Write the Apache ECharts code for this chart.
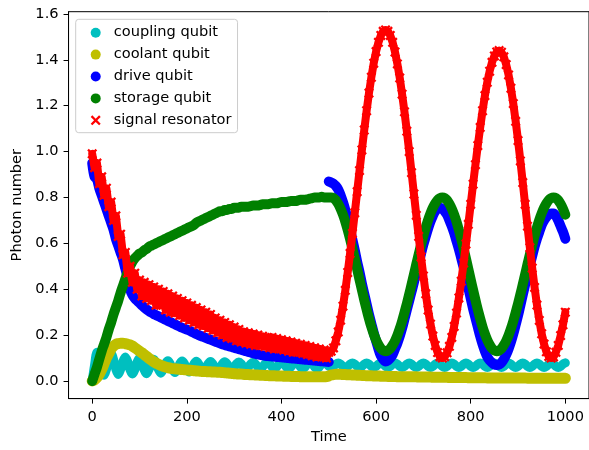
<!DOCTYPE html>
<html><head><meta charset="utf-8">
<script src="https://cdn.jsdelivr.net/npm/echarts@6/dist/echarts.min.js"></script>
<style>html,body{margin:0;padding:0;background:#fff}#c{width:589px;height:450px}</style>
</head><body><div id="c"></div>
<script>
const TIME_STEP = 5;
const xTicks = [0, 200, 400, 600, 800, 1000];
const yTicks = [0, 0.2, 0.4, 0.6, 0.8, 1.0, 1.2, 1.4, 1.6];
const seriesNames = ['coupling qubit', 'coolant qubit', 'drive qubit', 'storage qubit', 'signal resonator'];

// coupling qubit, t = 0..1000
const couplingQubit = [
0.0,0.07,0.125,0.10,0.05,0.025,0.05,0.10,0.12,0.095,
0.05,0.028,0.05,0.085,0.105,0.085,0.048,0.03,0.048,0.083,
0.10,0.083,0.048,0.032,0.05,0.08,0.095,0.08,0.05,0.034,
0.05,0.076,0.088,0.075,0.05,0.037,0.051,0.075,0.087,0.075,
0.051,0.039,0.052,0.075,0.086,0.075,0.053,0.042,0.054,0.075,
0.085,0.075,0.055,0.045,0.056,0.075,0.084,0.075,0.058,0.049,
0.059,0.075,0.083,0.075,0.06,0.052,0.061,0.075,0.082,0.075,
0.061,0.054,0.061,0.075,0.082,0.075,0.061,0.054,0.061,0.075,
0.082,0.075,0.061,0.054,0.061,0.075,0.082,0.075,0.061,0.054,
0.061,0.075,0.082,0.075,0.061,0.054,0.061,0.075,0.082,0.075,
0.064,0.059,0.064,0.074,0.079,0.074,0.064,0.059,0.064,0.074,
0.079,0.074,0.064,0.059,0.064,0.074,0.079,0.074,0.064,0.059,
0.064,0.074,0.079,0.074,0.064,0.059,0.064,0.074,0.079,0.074,
0.064,0.059,0.064,0.074,0.079,0.074,0.064,0.059,0.064,0.074,
0.079,0.074,0.064,0.059,0.064,0.074,0.079,0.074,0.064,0.059,
0.064,0.074,0.079,0.074,0.064,0.059,0.064,0.074,0.079,0.074,
0.064,0.059,0.064,0.074,0.079,0.074,0.064,0.059,0.064,0.074,
0.079,0.074,0.064,0.059,0.064,0.074,0.079,0.074,0.064,0.059,
0.064,0.074,0.079,0.074,0.064,0.059,0.064,0.074,0.079,0.074,
0.064,0.059,0.064,0.074,0.079,0.074,0.064,0.059,0.064,0.074,
0.079];

// coolant qubit, t = 0..1000
const coolantQubit = [
0.00,0.005,0.015,0.03,0.05,0.075,0.10,0.12,0.14,0.152,
0.16,0.163,0.165,0.165,0.163,0.16,0.157,0.152,0.145,0.138,
0.13,0.123,0.115,0.107,0.099,0.091,0.084,0.078,0.073,0.068,
0.064,0.061,0.058,0.056,0.054,0.053,0.052,0.051,0.05,0.049,
0.048,0.047,0.046,0.045,0.044,0.043,0.042,0.041,0.041,0.040,
0.040,0.039,0.039,0.038,0.038,0.037,0.036,0.035,0.034,0.033,
0.032,0.031,0.030,0.030,0.029,0.028,0.028,0.027,0.027,0.026,
0.026,0.025,0.025,0.024,0.024,0.023,0.023,0.023,0.022,0.022,
0.022,0.021,0.021,0.021,0.020,0.020,0.020,0.020,0.019,0.019,
0.019,0.019,0.018,0.018,0.018,0.018,0.018,0.018,0.018,0.019,
0.022,0.026,0.028,0.029,0.029,0.029,0.028,0.028,0.027,0.027,
0.026,0.026,0.025,0.025,0.024,0.024,0.023,0.023,0.023,0.022,
0.022,0.022,0.021,0.021,0.021,0.020,0.020,0.020,0.020,0.019,
0.019,0.019,0.019,0.018,0.018,0.018,0.018,0.018,0.017,0.017,
0.017,0.017,0.017,0.017,0.016,0.016,0.016,0.016,0.016,0.016,
0.016,0.015,0.015,0.015,0.015,0.015,0.015,0.015,0.015,0.014,
0.014,0.014,0.014,0.014,0.014,0.014,0.014,0.013,0.013,0.013,
0.013,0.013,0.013,0.013,0.013,0.013,0.013,0.013,0.013,0.013,
0.013,0.013,0.013,0.013,0.012,0.012,0.012,0.012,0.012,0.012,
0.012,0.012,0.012,0.012,0.012,0.012,0.012,0.012,0.012,0.012,
0.012];

// drive qubit, t = 0..500 (before the jump)
const driveQubitBefore = [
0.95,0.89,0.88,0.84,0.81,0.78,0.75,0.72,0.69,0.66,
0.62,0.59,0.56,0.53,0.49,0.45,0.40,0.375,0.36,0.35,
0.34,0.33,0.32,0.312,0.305,0.298,0.292,0.287,0.282,0.277,
0.272,0.267,0.262,0.257,0.252,0.247,0.242,0.237,0.232,0.228,
0.224,0.22,0.215,0.21,0.205,0.20,0.196,0.192,0.188,0.184,
0.18,0.176,0.172,0.168,0.164,0.16,0.157,0.154,0.151,0.148,
0.145,0.142,0.139,0.136,0.133,0.13,0.127,0.124,0.121,0.118,
0.116,0.114,0.112,0.11,0.109,0.108,0.107,0.106,0.105,0.104,
0.103,0.102,0.101,0.10,0.099,0.098,0.097,0.096,0.095,0.094,
0.093,0.092,0.091,0.09,0.089,0.088,0.087,0.086,0.085,0.084,
0.083];
// drive qubit, t = 500..1000 (after the jump)
const driveQubitAfter = [
0.87,0.865,0.86,0.85,0.835,0.81,0.78,0.745,0.70,0.66,
0.615,0.57,0.52,0.475,0.425,0.38,0.335,0.29,0.25,0.21,
0.175,0.14,0.11,0.095,0.085,0.09,0.10,0.115,0.14,0.165,
0.195,0.23,0.27,0.31,0.35,0.39,0.43,0.475,0.515,0.555,
0.595,0.63,0.665,0.695,0.72,0.74,0.75,0.755,0.75,0.74,
0.725,0.70,0.675,0.645,0.61,0.575,0.535,0.495,0.45,0.405,
0.36,0.315,0.275,0.235,0.195,0.16,0.13,0.105,0.09,0.08,
0.072,0.07,0.072,0.08,0.095,0.115,0.14,0.17,0.205,0.245,
0.285,0.33,0.375,0.42,0.465,0.505,0.545,0.585,0.62,0.65,
0.68,0.70,0.715,0.725,0.73,0.73,0.72,0.70,0.675,0.65,
0.62];

// storage qubit, t = 0..1000
const storageQubit = [
0.00,0.03,0.06,0.095,0.13,0.16,0.19,0.225,0.255,0.29,
0.32,0.35,0.385,0.415,0.445,0.475,0.50,0.52,0.535,0.545,
0.555,0.56,0.57,0.575,0.585,0.59,0.595,0.60,0.605,0.61,
0.615,0.62,0.625,0.63,0.635,0.64,0.645,0.65,0.655,0.66,
0.665,0.67,0.675,0.68,0.69,0.695,0.70,0.705,0.71,0.715,
0.72,0.725,0.73,0.735,0.74,0.74,0.745,0.745,0.75,0.75,
0.755,0.755,0.755,0.76,0.76,0.76,0.76,0.762,0.765,0.765,
0.765,0.767,0.77,0.77,0.77,0.772,0.775,0.775,0.775,0.777,
0.78,0.78,0.78,0.782,0.785,0.785,0.785,0.787,0.79,0.79,
0.79,0.792,0.795,0.797,0.80,0.80,0.80,0.803,0.80,0.80,
0.80,0.80,0.797,0.788,0.772,0.751,0.725,0.694,0.658,0.619,
0.577,0.533,0.488,0.442,0.397,0.353,0.311,0.272,0.236,0.205,
0.179,0.158,0.142,0.133,0.13,0.133,0.141,0.156,0.175,0.199,
0.228,0.261,0.298,0.337,0.378,0.421,0.465,0.509,0.552,0.593,
0.633,0.669,0.702,0.731,0.755,0.774,0.789,0.797,0.80,0.797,
0.788,0.772,0.751,0.725,0.694,0.658,0.619,0.577,0.533,0.488,
0.442,0.397,0.353,0.311,0.272,0.236,0.205,0.179,0.158,0.142,
0.133,0.13,0.133,0.141,0.156,0.175,0.199,0.228,0.261,0.298,
0.337,0.378,0.421,0.465,0.509,0.552,0.593,0.633,0.669,0.702,
0.731,0.755,0.774,0.789,0.797,0.80,0.797,0.788,0.772,0.751,
0.725];

// signal resonator, t = 0..1000
const signalResonator = [
0.99,0.93,0.95,0.86,0.89,0.81,0.84,0.76,0.78,0.70,
0.72,0.63,0.64,0.55,0.56,0.47,0.50,0.43,0.47,0.40,
0.44,0.37,0.43,0.36,0.42,0.35,0.41,0.33,0.40,0.33,
0.39,0.31,0.38,0.30,0.37,0.295,0.36,0.285,0.35,0.275,
0.34,0.265,0.33,0.255,0.32,0.245,0.31,0.24,0.30,0.23,
0.29,0.22,0.275,0.21,0.265,0.20,0.255,0.19,0.245,0.185,
0.235,0.175,0.225,0.17,0.215,0.165,0.21,0.16,0.205,0.155,
0.20,0.155,0.195,0.15,0.19,0.145,0.19,0.14,0.185,0.14,
0.18,0.135,0.175,0.13,0.17,0.125,0.165,0.125,0.16,0.12,
0.155,0.115,0.15,0.11,0.145,0.105,0.14,0.105,0.135,0.10,
0.125,0.13,0.144,0.175,0.214,0.265,0.326,0.395,0.473,0.556,
0.643,0.733,0.825,0.917,1.007,1.094,1.178,1.255,1.324,1.385,
1.436,1.476,1.506,1.524,1.53,1.524,1.506,1.476,1.434,1.382,
1.321,1.25,1.173,1.089,1.0,0.908,0.815,0.722,0.63,0.541,
0.458,0.38,0.309,0.248,0.196,0.155,0.124,0.106,0.10,0.106,
0.123,0.151,0.19,0.238,0.296,0.362,0.435,0.514,0.597,0.683,
0.77,0.858,0.943,1.026,1.105,1.178,1.244,1.302,1.35,1.389,
1.417,1.434,1.44,1.433,1.413,1.379,1.334,1.276,1.209,1.132,
1.048,0.959,0.865,0.77,0.675,0.581,0.492,0.408,0.331,0.264,
0.206,0.161,0.127,0.107,0.10,0.105,0.125,0.155,0.198,0.245,
0.30];

// ---- chart ----
const FONT = 'DejaVu Sans';
const FS = 14.6;
const colors = ['#00bfbf', '#bfbf00', '#0000ff', '#008000', '#ff0000'];
const crossPath = 'path://M0,1.6L1.6,0L5,3.4L8.4,0L10,1.6L6.6,5L10,8.4L8.4,10L5,6.6L1.6,10L0,8.4L3.4,5Z';
const toPairs = (vals, t0) => vals.map((v, i) => [t0 + i * TIME_STEP, v]);

function dotSeries(name, vals, t0, color, width) {
  return {
    type: 'line', name: name, data: toPairs(vals, t0),
    showSymbol: false, smooth: 0.3, animation: false,
    color: color,
    itemStyle: { color: color },
    lineStyle: { color: color, width: width, cap: 'round', join: 'round' },
    emphasis: { disabled: true }
  };
}

const chart = echarts.init(document.getElementById('c'), null, { renderer: 'canvas' });
chart.setOption({
  animation: false,
  backgroundColor: '#ffffff',
  grid: { left: 68.55, right: -2.05, top: 11.7, bottom: 48.3, show: true, borderColor: '#000', borderWidth: 1, backgroundColor: 'transparent' },
  legend: {
    orient: 'vertical', left: 75.7, top: 19.3,
    padding: [5.4, 6, 4.4, 15],
    itemWidth: 26, itemHeight: 10, itemGap: 5.9,
    borderColor: '#cccccc', borderWidth: 1, borderRadius: 3,
    backgroundColor: 'rgba(255,255,255,0.8)',
    textStyle: { fontFamily: FONT, fontSize: FS, color: '#000', lineHeight: 16 },
    data: [
      { name: seriesNames[0], icon: 'circle' },
      { name: seriesNames[1], icon: 'circle' },
      { name: seriesNames[2], icon: 'circle' },
      { name: seriesNames[3], icon: 'circle' },
      { name: seriesNames[4], icon: crossPath }
    ]
  },
  xAxis: {
    type: 'value', min: -50, max: 1050,
    name: 'Time', nameLocation: 'middle', nameGap: 28,
    nameTextStyle: { fontFamily: FONT, fontSize: FS, color: '#000' },
    axisLine: { show: true, onZero: false, lineStyle: { color: '#000', width: 1 } },
    axisTick: { show: true, inside: false, length: 5, customValues: xTicks, lineStyle: { color: '#000', width: 1 } },
    axisLabel: { customValues: xTicks, margin: 11.5, fontFamily: FONT, fontSize: FS, color: '#000', formatter: v => String(v) },
    splitLine: { show: false }
  },
  yAxis: {
    type: 'value', min: -0.0767, max: 1.6096,
    name: 'Photon number', nameLocation: 'middle', nameGap: 40,
    nameTextStyle: { fontFamily: FONT, fontSize: FS, color: '#000' },
    axisLine: { show: true, onZero: false, lineStyle: { color: '#000', width: 1 } },
    axisTick: { show: true, inside: false, length: 5, customValues: yTicks, lineStyle: { color: '#000', width: 1 } },
    axisLabel: { customValues: yTicks, margin: 10, fontFamily: FONT, fontSize: FS, color: '#000', formatter: v => v.toFixed(1) },
    splitLine: { show: false }
  },
  series: [
    dotSeries(seriesNames[0], couplingQubit, 0, colors[0], 9),
    dotSeries(seriesNames[1], coolantQubit, 0, colors[1], 11),
    dotSeries(seriesNames[2], driveQubitBefore, 0, colors[2], 10),
    dotSeries(seriesNames[2], driveQubitAfter, 500, colors[2], 10),
    dotSeries(seriesNames[3], storageQubit, 0, colors[3], 10),
    {
      type: 'line', name: seriesNames[4], data: toPairs(signalResonator, 0),
      showSymbol: true, showAllSymbol: true, symbol: crossPath, symbolSize: 10,
      smooth: false, animation: false, color: colors[4],
      itemStyle: { color: colors[4] },
      lineStyle: { color: colors[4], width: 8, join: 'round', cap: 'round' },
      emphasis: { disabled: true }
    }
  ]
});
</script></body></html>
